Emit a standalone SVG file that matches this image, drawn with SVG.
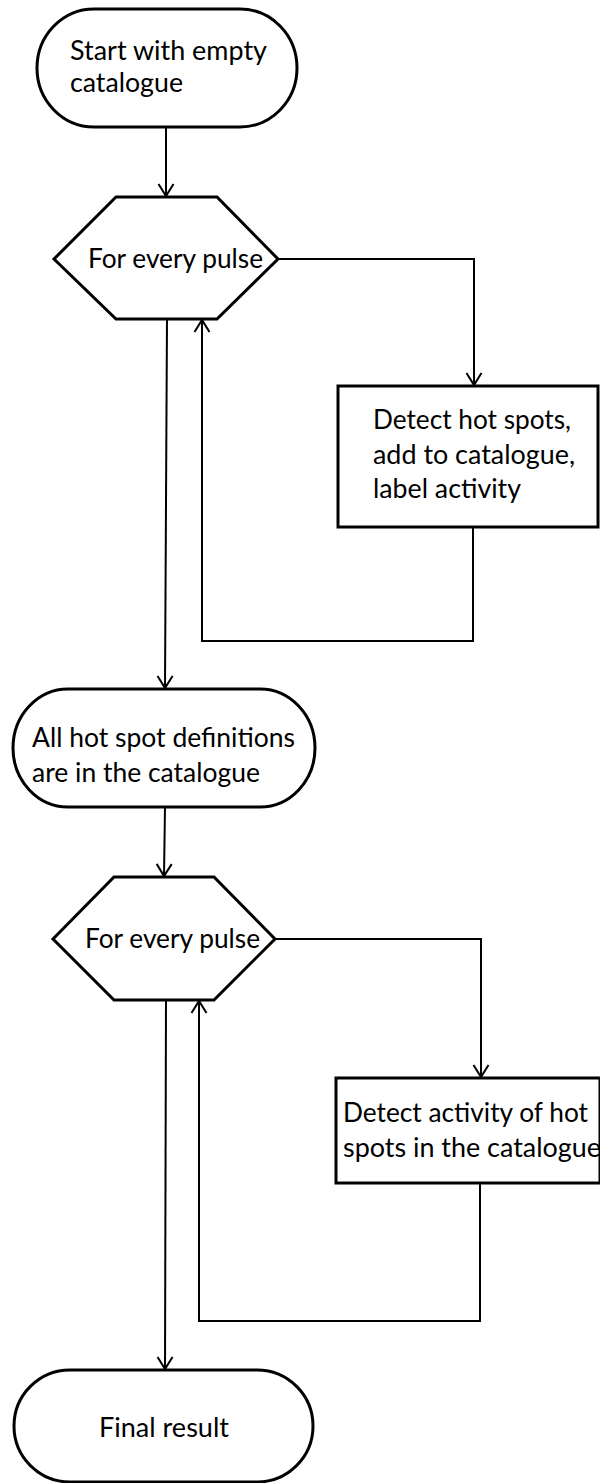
<svg xmlns="http://www.w3.org/2000/svg" width="600" height="1483" viewBox="0 0 600 1483">
<style>
.shape{fill:#fff;stroke:#000;stroke-width:3;stroke-linejoin:miter}
.conn{fill:none;stroke:#000;stroke-width:2}
text{font-family:Lato,"Open Sans","Liberation Sans",sans-serif;font-size:26px;fill:#000}
</style>
<defs>
<marker id="arr" markerUnits="userSpaceOnUse" markerWidth="24" markerHeight="24" refX="12" refY="12" orient="auto" overflow="visible">
<path d="M0,4.5 L12,12 L0,19.5" fill="none" stroke="#000" stroke-width="2"/>
</marker>
</defs>
<g id="connectors">
<path class="conn" d="M166,127 L166,196" marker-end="url(#arr)"/>
<path class="conn" d="M278,259 L474,259 L474,385" marker-end="url(#arr)"/>
<path class="conn" d="M473,527 L473,641 L202,641 L202,320" marker-end="url(#arr)"/>
<path class="conn" d="M167,319 L165,688" marker-end="url(#arr)"/>
<path class="conn" d="M165,807 L164,876" marker-end="url(#arr)"/>
<path class="conn" d="M275,939 L481,939 L481,1077" marker-end="url(#arr)"/>
<path class="conn" d="M480,1183 L480,1321 L199,1321 L199,1001" marker-end="url(#arr)"/>
<path class="conn" d="M166,1000 L165,1369" marker-end="url(#arr)"/>
</g>
<g id="start">
<rect class="shape" x="37" y="9" width="260" height="118" rx="57" ry="59"/>
<text x="70" y="60" textLength="197" lengthAdjust="spacingAndGlyphs">Start with empty</text>
<text x="70" y="92" textLength="113" lengthAdjust="spacingAndGlyphs">catalogue</text>
</g>
<g id="loop1">
<polygon class="shape" points="116,197 217,197 278,259 217,319 116,319 54,259"/>
<text x="88" y="268" textLength="175" lengthAdjust="spacingAndGlyphs">For every pulse</text>
</g>
<g id="detect1">
<rect class="shape" x="338" y="386" width="260" height="141"/>
<text x="373" y="429" textLength="198" lengthAdjust="spacingAndGlyphs">Detect hot spots,</text>
<text x="373" y="464" textLength="202" lengthAdjust="spacingAndGlyphs">add to catalogue,</text>
<text x="373" y="498" textLength="148" lengthAdjust="spacingAndGlyphs">label activity</text>
</g>
<g id="catalogue-ready">
<rect class="shape" x="13" y="689" width="302" height="118" rx="55" ry="59"/>
<text x="32" y="747" textLength="263" lengthAdjust="spacingAndGlyphs">All hot spot definitions</text>
<text x="32" y="782" textLength="228" lengthAdjust="spacingAndGlyphs">are in the catalogue</text>
</g>
<g id="loop2">
<polygon class="shape" points="114,877 214,877 275,939 214,1000 114,1000 53,939"/>
<text x="85" y="948" textLength="175" lengthAdjust="spacingAndGlyphs">For every pulse</text>
</g>
<g id="detect2">
<rect class="shape" x="336" y="1078" width="264" height="105"/>
<text x="343" y="1122" textLength="245" lengthAdjust="spacingAndGlyphs">Detect activity of hot</text>
<text x="343" y="1157" textLength="258" lengthAdjust="spacingAndGlyphs">spots in the catalogue</text>
</g>
<g id="final">
<rect class="shape" x="14" y="1370" width="299" height="112" rx="56" ry="56"/>
<text x="99" y="1437" textLength="130" lengthAdjust="spacingAndGlyphs">Final result</text>
</g>
</svg>
